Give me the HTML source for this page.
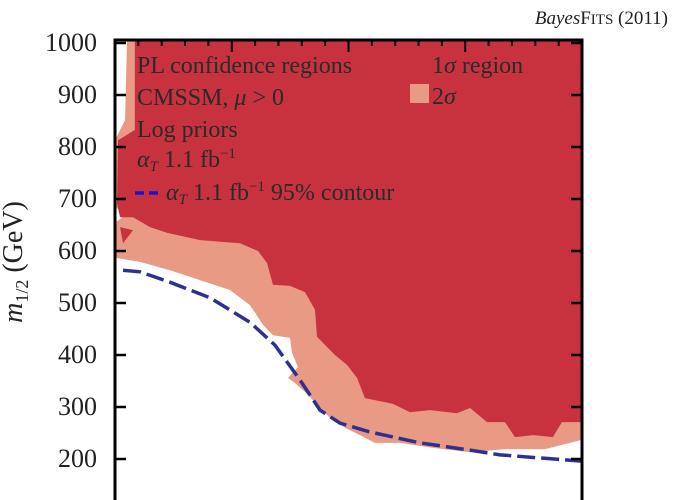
<!DOCTYPE html>
<html><head><meta charset="utf-8"><style>
html,body{margin:0;padding:0;background:#fff;}
svg{display:block;font-family:"Liberation Serif",serif;}
</style></head><body>
<svg id="chart" width="680" height="500">
<defs><clipPath id="clip"><rect x="115" y="40" width="467" height="470"/></clipPath></defs>
<g id="regions" clip-path="url(#clip)"></g>
<g id="axes"></g>
<text x="668" y="24" text-anchor="end" font-size="19" fill="#222"><tspan font-style="italic">Bayes</tspan>F<tspan font-size="15">ITS</tspan> (2011)</text>
<text transform="translate(22,262) rotate(-90)" text-anchor="middle" font-size="28" fill="#222"><tspan font-style="italic">m</tspan><tspan font-size="18" dy="6">1/2</tspan><tspan dy="-6"> (GeV)</tspan></text>
<g font-size="24" fill="#2a2a2a">
<text x="137" y="73">PL confidence regions</text>
<text x="137" y="105">CMSSM, <tspan font-style="italic">μ</tspan> &gt; 0</text>
<text x="137" y="137">Log priors</text>
<text x="137" y="167"><tspan font-style="italic">α</tspan><tspan font-style="italic" font-size="15" dy="4">T</tspan><tspan dy="-4"> 1.1 fb</tspan><tspan font-size="15" dy="-9">−1</tspan></text>
<line x1="135" y1="193" x2="160" y2="193" stroke="#1515d0" stroke-width="3.5" stroke-dasharray="9,5"/>
<text x="166" y="200"><tspan font-style="italic">α</tspan><tspan font-style="italic" font-size="15" dy="4">T</tspan><tspan dy="-4"> 1.1 fb</tspan><tspan font-size="15" dy="-9">−1</tspan><tspan dy="9"> 95% contour</tspan></text>
<text x="432" y="73">1<tspan font-style="italic">σ</tspan> region</text>
<rect x="410" y="84" width="19" height="19" fill="#e99a84"/>
<text x="432" y="104">2<tspan font-style="italic">σ</tspan></text>
</g>
</svg>
<script>
const yTicks=[200,300,400,500,600,700,800,900,1000];
const contourM0=[69,214,471,814,1156,1370,1584,1756,1927,2184,2612,3041,3298,3640,4000];
const contourM12=[563,560,540,510,463,419,352,294,269,252,231,217,208,202,196];
const sigma2M0=[103,4000,4000,3897,3683,3340,3041,2741,2441,2227,2098,1970,1841,1627,1542,1482,1567,1516,1499,1353,1268,1156,985,728,471,214,0,0,86,0,0,86];
const sigma2M12=[1005,1005,237,231,219,219,213,221,231,231,246,260,279,329,346,356,377,404,433,438,458,496,525,544,563,579,587,654,669,685,813,852];
const sigma1M0=[170,4000,4000,3828,3751,3580,3426,3340,3186,3041,2929,2698,2527,2381,2141,2073,1987,1884,1730,1713,1627,1499,1353,1302,1225,1071,728,445,300,154,43,17,26,170];
const sigma1M12=[1005,1005,271,271,242,246,242,271,271,298,288,294,290,306,317,356,381,400,435,487,521,533,535,577,600,615,621,635,646,665,665,692,813,833];
const islandM0=[43,154,69];
const islandM12=[646,640,615];
const X0=115,X1=582;
const xs=v=>X0+(v/4000)*(X1-X0);
const ys=v=>459-(v-200)*0.52;
const NS='http://www.w3.org/2000/svg';
const reg=document.getElementById('regions');
function poly(xa,ya,fill,name){
  const p=document.createElementNS(NS,'polygon');
  p.setAttribute('points',xa.map((x,i)=>xs(x)+','+ys(ya[i])).join(' '));
  p.setAttribute('fill',fill);
  
  
  reg.appendChild(p);
}
poly(sigma2M0,sigma2M12,'#e99a84','region-2sigma');
poly(sigma1M0,sigma1M12,'#c8323f','region-1sigma');
poly(islandM0,islandM12,'#c8323f','region-1sigma-island');
const pl=document.createElementNS(NS,'polyline');
pl.setAttribute('points',contourM0.map((x,i)=>xs(x)+','+ys(contourM12[i])).join(' '));
pl.setAttribute('fill','none');pl.setAttribute('stroke','#2b3190');pl.setAttribute('stroke-width','3.5');
pl.setAttribute('stroke-dasharray','18,6');


reg.appendChild(pl);
const ax=document.getElementById('axes');
function line(x1,y1,x2,y2,w,name){
  const l=document.createElementNS(NS,'line');
  l.setAttribute('x1',x1);l.setAttribute('y1',y1);l.setAttribute('x2',x2);l.setAttribute('y2',y2);
  l.setAttribute('stroke','#000');l.setAttribute('stroke-width',w);
  
  
  ax.appendChild(l);
}
line(115,40,115,500,3,'y-axis-left');
line(582,40,582,500,3,'y-axis-right');
line(113.5,40,583.5,40,3,'x-axis-top');
yTicks.forEach(v=>{
  const y=ys(v);
  line(115,y,126,y,2.5,'y-tick-left');
  line(571,y,582,y,2.5,'y-tick-right');
  const t=document.createElementNS(NS,'text');
  t.setAttribute('x',97);t.setAttribute('y',y+8);t.setAttribute('text-anchor','end');
  t.setAttribute('font-size','26');t.setAttribute('fill','#222');
  
  
  t.textContent=v;ax.appendChild(t);
});
for(let i=0;i<=20;i++){
  const x=xs(i*200);
  line(x,40,x,i%5===0?52:46,2,'x-tick-top');
}
</script>
</body></html>
